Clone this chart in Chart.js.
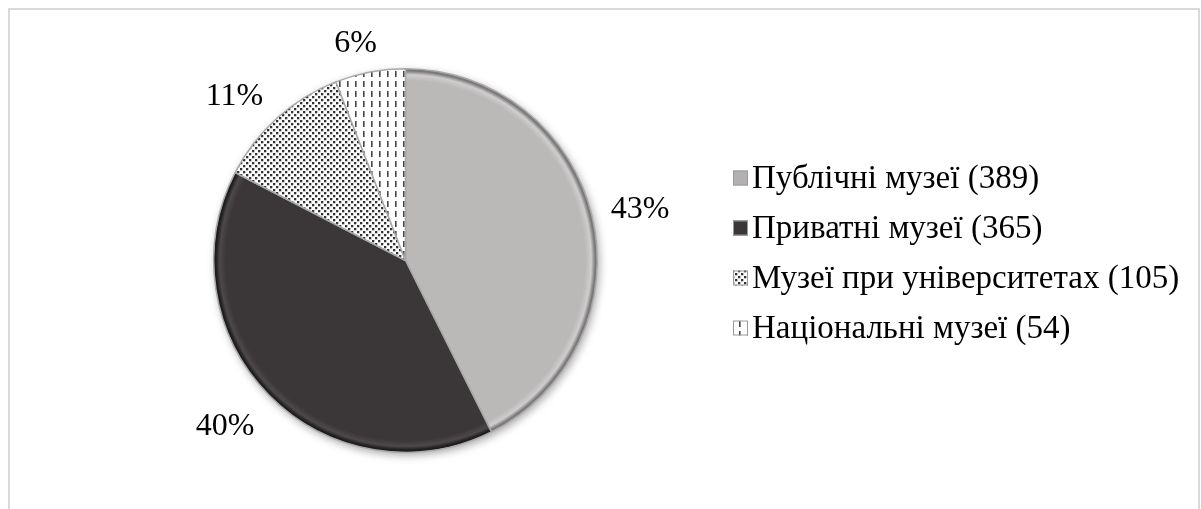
<!DOCTYPE html>
<html>
<head>
<meta charset="utf-8">
<script src="https://cdn.jsdelivr.net/npm/chart.js@4.4.1/dist/chart.umd.min.js"></script>
<style>
  html, body { margin: 0; padding: 0; background: #ffffff; }
  #wrap { width: 1201px; height: 509px; position: relative; }
</style>
</head>
<body>
<div id="wrap"><canvas id="c" width="1201" height="509"></canvas></div>
<script>
// ---- data ----
const categories = ['Публічні музеї (389)', 'Приватні музеї (365)', 'Музеї при університетах (105)', 'Національні музеї (54)'];
const museumCounts = [389, 365, 105, 54];
const percentLabels = ['43%', '40%', '11%', '6%'];

// ---- styles ----
const FONT = "'Liberation Serif', 'Times New Roman', serif";

function dotPattern() {
  const t = document.createElement('canvas');
  t.width = 6; t.height = 6;
  const g = t.getContext('2d');
  g.fillStyle = '#ffffff'; g.fillRect(0, 0, 6, 6);
  g.fillStyle = '#333333';
  g.fillRect(0, 0, 2.3, 2.3);
  g.fillRect(3, 3, 2.3, 2.3);
  return g.createPattern(t, 'repeat');
}
function dashPattern() {
  const t = document.createElement('canvas');
  t.width = 8; t.height = 10;
  const g = t.getContext('2d');
  g.fillStyle = '#ffffff'; g.fillRect(0, 0, 8, 10);
  g.fillStyle = '#454545';
  g.fillRect(3, 1, 1.6, 6);
  return g.createPattern(t, 'repeat');
}
const patDots = dotPattern();
const patDash = dashPattern();

const solidBases = [
  ['#bbb8b8', '#cfcdcd', '#7a7878'],
  ['#3b3739', '#4d494b', '#1f1d1e']
];
function sliceFill(ctx) {
  const i = ctx.dataIndex;
  if (i === 2) return patDots;
  if (i === 3) return patDash;
  const [base, light, dark] = solidBases[i];
  const a = ctx.chart.chartArea;
  if (!a) return base;
  const cx = (a.left + a.right) / 2, cy = (a.top + a.bottom) / 2;
  const r = Math.min(a.right - a.left, a.bottom - a.top) / 2;
  const g = ctx.chart.ctx.createRadialGradient(cx, cy, 0, cx, cy, r);
  g.addColorStop(0, base);
  g.addColorStop(0.935, base);
  g.addColorStop(0.965, light);
  g.addColorStop(0.985, dark);
  g.addColorStop(1, dark);
  return g;
}
const legendFills = ['#b3b0b0', '#3b3739', patDots, patDash];

const framePlugin = {
  id: 'frame',
  beforeDraw(chart) {
    const c = chart.ctx;
    c.save();
    c.fillStyle = '#ffffff';
    c.fillRect(0, 0, chart.width, chart.height);
    c.strokeStyle = '#d9d9d9';
    c.lineWidth = 2;
    c.strokeRect(9, 9, 1190, 520);
    c.restore();
  },
  beforeDatasetsDraw(chart) {
    const arc = chart.getDatasetMeta(0).data[0];
    if (!arc) return;
    const c = chart.ctx;
    c.save();
    c.shadowColor = 'rgba(0,0,0,0.35)';
    c.shadowBlur = 8;
    c.shadowOffsetX = 2;
    c.shadowOffsetY = 3;
    c.fillStyle = '#ffffff';
    c.beginPath();
    c.arc(arc.x, arc.y, arc.outerRadius, 0, Math.PI * 2);
    c.fill();
    c.restore();
  },
  afterDatasetsDraw(chart) {
    const meta = chart.getDatasetMeta(0);
    const c = chart.ctx;
    c.save();
    c.font = '32px ' + FONT;
    c.fillStyle = '#000000';
    c.textAlign = 'center';
    c.textBaseline = 'middle';
    meta.data.forEach((arc, i) => {
      const mid = (arc.startAngle + arc.endAngle) / 2;
      const dx = Math.cos(mid), dy = Math.sin(mid);
      const txt = percentLabels[i];
      const w = c.measureText(txt).width;
      const d = arc.outerRadius + 15;
      const ox = Math.sign(dx) * Math.min(1, Math.abs(dx) * 2.5) * (w / 2 + 4);
      const oy = dy * (dy > 0 ? 30 : 14);
      const x = arc.x + dx * d + ox;
      const y = arc.y + dy * d + oy;
      c.fillText(txt, x, y);
    });
    // legend
    const lx = 733, ly0 = 178, step = 50, box = 15;
    c.textAlign = 'left';
    c.font = '33px ' + FONT;
    chart.data.labels.forEach((lab, i) => {
      const y = ly0 + i * step;
      c.fillStyle = legendFills[i];
      c.fillRect(lx, y - box / 2, box, box);
      c.strokeStyle = '#9a9a9a';
      c.lineWidth = 1;
      c.strokeRect(lx + 0.5, y - box / 2 + 0.5, box - 1, box - 1);
      c.fillStyle = '#000000';
      c.fillText(lab, lx + box + 4, y + 1);
    });
    c.restore();
  }
};

new Chart(document.getElementById('c'), {
  type: 'pie',
  data: {
    labels: categories,
    datasets: [{
      data: museumCounts,
      backgroundColor: sliceFill,
      borderColor: '#a8a8a8',
      borderWidth: 1.5,
      hoverOffset: 0
    }]
  },
  options: {
    responsive: false,
    animation: false,
    devicePixelRatio: 1,
    rotation: 0,
    layout: { padding: { left: 213, right: 1201 - 598, top: 68, bottom: 509 - 453 } },
    plugins: {
      legend: { display: false },
      tooltip: { enabled: false }
    }
  },
  plugins: [framePlugin]
});
</script>
</body>
</html>
